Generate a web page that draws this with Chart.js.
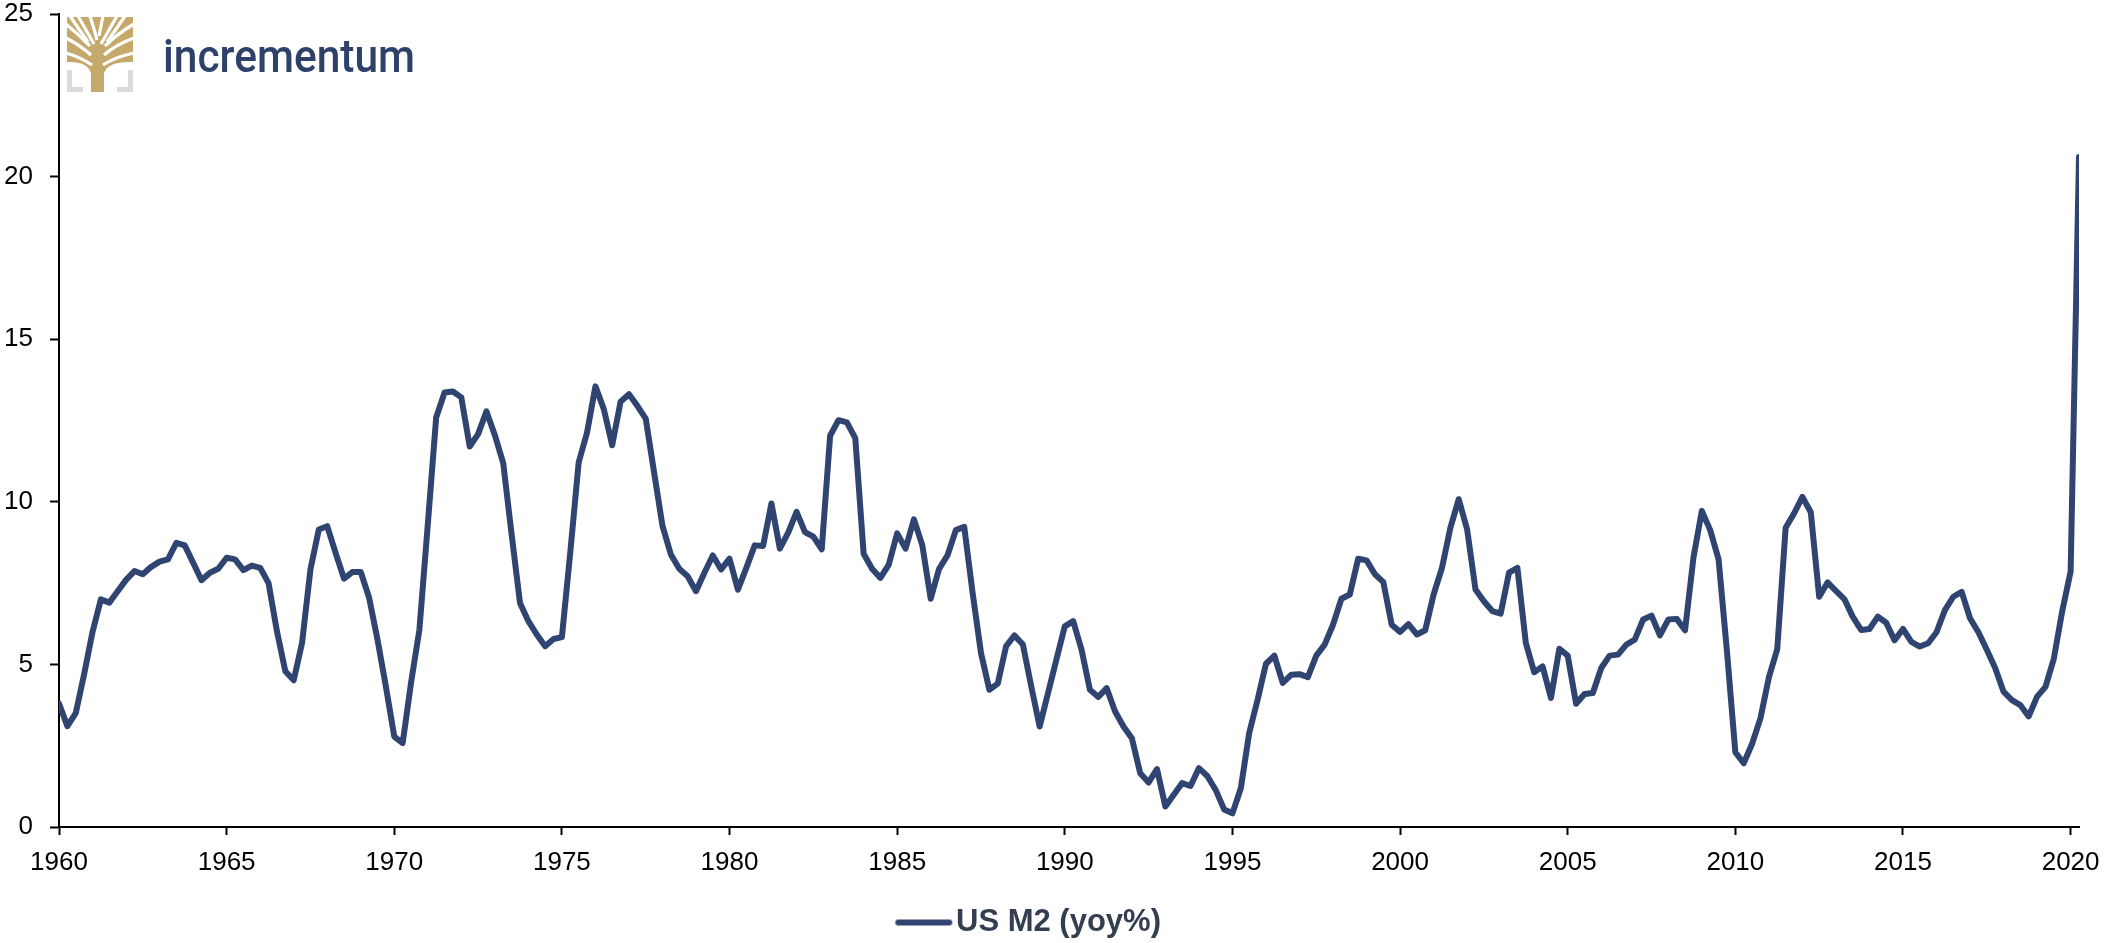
<!DOCTYPE html>
<html>
<head>
<meta charset="utf-8">
<title>US M2 (yoy%)</title>
<script src="https://cdn.jsdelivr.net/npm/chart.js@4.4.1/dist/chart.umd.min.js"></script>
<style>
  html, body { margin: 0; padding: 0; background: #fff; overflow: hidden; }
  #wrap { position: relative; width: 2106px; height: 943px; }
</style>
</head>
<body>
<div id="wrap"><canvas id="m2Chart"></canvas></div>
<script>
// quarterly values, first one is 1960 Q1
const startYear = 1960;
const seriesLabel = 'US M2 (yoy%)';

const m2_1960s = [
    3.8, 3.1, 3.5, 4.7, 6.0, 7.0, 6.9, 7.25, 7.6, 7.87,
    7.77, 8.0, 8.16, 8.23, 8.74, 8.66, 8.13, 7.59, 7.82, 7.94,
    8.28, 8.23, 7.9, 8.04, 7.97, 7.5, 6.02, 4.79, 4.51, 5.66,
    7.92, 9.15, 9.25, 8.43, 7.64, 7.84, 7.84, 7.05, 5.76, 4.32
];
const m2_1970s = [
    2.78, 2.58, 4.43, 6.07, 9.3, 12.59, 13.36, 13.39, 13.21, 11.7,
    12.08, 12.78, 12.05, 11.19, 9.0, 6.89, 6.33, 5.92, 5.56, 5.78,
    5.84, 8.45, 11.21, 12.13, 13.55, 12.85, 11.74, 13.08, 13.31, 12.95,
    12.56, 10.9, 9.26, 8.38, 7.94, 7.71, 7.25, 7.82, 8.35, 7.92
];
const m2_1980s = [
    8.25, 7.3, 7.97, 8.66, 8.64, 9.95, 8.56, 9.05, 9.69, 9.07,
    8.93, 8.54, 12.03, 12.51, 12.44, 11.96, 8.4, 7.94, 7.66, 8.07,
    9.03, 8.56, 9.46, 8.66, 7.02, 7.94, 8.35, 9.13, 9.23, 7.2,
    5.35, 4.22, 4.41, 5.56, 5.89, 5.61, 4.32, 3.09, 4.12, 5.15
];
const m2_1990s = [
    6.17, 6.33, 5.45, 4.22, 4.0, 4.27, 3.55, 3.09, 2.73, 1.65,
    1.37, 1.78, 0.63, 0.99, 1.35, 1.26, 1.81, 1.57, 1.14, 0.54,
    0.42, 1.19, 2.89, 3.91, 5.02, 5.27, 4.43, 4.68, 4.7, 4.61,
    5.27, 5.61, 6.22, 7.02, 7.15, 8.25, 8.2, 7.77, 7.53, 6.22
];
const m2_2000s = [
    6.0, 6.24, 5.92, 6.05, 7.15, 7.97, 9.2, 10.08, 9.15, 7.3,
    6.94, 6.64, 6.56, 7.82, 7.97, 5.66, 4.76, 4.94, 3.97, 5.48,
    5.27, 3.79, 4.09, 4.12, 4.89, 5.27, 5.3, 5.61, 5.76, 6.38,
    6.5, 5.89, 6.38, 6.4, 6.05, 8.28, 9.72, 9.13, 8.23, 5.4
];
const m2_2010s = [
    2.3, 1.96, 2.56, 3.35, 4.6, 5.47, 9.2, 9.64, 10.15, 9.68,
    7.08, 7.52, 7.26, 7.01, 6.47, 6.06, 6.09, 6.47, 6.28, 5.74,
    6.09, 5.69, 5.55, 5.65, 5.99, 6.67, 7.08, 7.23, 6.42, 5.99,
    5.45, 4.89, 4.16, 3.9, 3.75, 3.4, 4.01, 4.31, 5.18, 6.64
];
const m2_2020s = [7.85, 20.6];

const xTicks = [1960, 1965, 1970, 1975, 1980, 1985, 1990, 1995, 2000, 2005, 2010, 2015, 2020];
const yTicks = [0, 5, 10, 15, 20, 25];

const m2 = [].concat(m2_1960s, m2_1970s, m2_1980s, m2_1990s, m2_2000s, m2_2010s, m2_2020s);
const points = m2.map((v, i) => ({ x: startYear + i / 4, y: v }));

const navy = '#2f4471';
const axisFont = { family: '"Liberation Sans", Arial, sans-serif', size: 26 };

// legend swatch: a short thick line, drawn a bit left of the box so the text sits close to it
const legendSwatch = document.createElement('canvas');
legendSwatch.width = 120;
legendSwatch.height = 10;
const sctx = legendSwatch.getContext('2d');
sctx.strokeStyle = navy;
sctx.lineWidth = 6;
sctx.lineCap = 'round';
sctx.beginPath();
sctx.moveTo(29, 5);
sctx.lineTo(80, 5);
sctx.stroke();

// incrementum logo, top left
const logoPlugin = {
    id: 'logo',
    afterDraw(chart) {
        const ctx = chart.ctx;
        ctx.save();

        // grey corner brackets
        ctx.fillStyle = '#dadadd';
        ctx.fillRect(67, 70, 5, 22);
        ctx.fillRect(67, 87, 16, 5);
        ctx.fillRect(128, 70, 5, 22);
        ctx.fillRect(117, 87, 16, 5);

        // gold tree
        ctx.fillStyle = '#c4a96b';
        ctx.beginPath();
        ctx.moveTo(67, 17);
        ctx.lineTo(133, 17);
        ctx.lineTo(133, 62);
        ctx.quadraticCurveTo(108, 61, 104, 73);
        ctx.lineTo(104, 92);
        ctx.lineTo(91, 92);
        ctx.lineTo(91, 73);
        ctx.quadraticCurveTo(87, 61, 67, 62);
        ctx.closePath();
        ctx.fill();

        // white gaps between the branches
        ctx.strokeStyle = '#fff';
        ctx.lineWidth = 3.2;
        ctx.lineCap = 'butt';
        const gaps = [
            [92, 65, 80, 57, 66, 53], [91, 55, 80, 45, 66, 38], [90, 46, 78, 34, 66, 24],
            [94, 44, 86, 30, 78, 16], [97, 40, 94, 28, 90, 16], [88, 42, 78, 28, 70, 16],
            [103, 65, 115, 57, 134, 53], [104, 55, 115, 45, 134, 38], [105, 46, 117, 34, 134, 24],
            [101, 44, 109, 30, 117, 16], [99, 36, 101, 26, 103, 16], [107, 42, 117, 28, 125, 16]
        ];
        gaps.forEach(g => {
            ctx.beginPath();
            ctx.moveTo(g[0], g[1]);
            ctx.quadraticCurveTo(g[2], g[3], g[4], g[5]);
            ctx.stroke();
        });

        ctx.fillStyle = '#2e4169';
        ctx.font = '500 47px Roboto, "Liberation Sans", sans-serif';
        ctx.textBaseline = 'alphabetic';
        ctx.fillText('incrementum', 163, 72, 252);
        ctx.restore();
    }
};

new Chart(document.getElementById('m2Chart'), {
    type: 'line',
    data: {
        datasets: [{
            label: seriesLabel,
            data: points,
            borderColor: navy,
            backgroundColor: navy,
            borderWidth: 6,
            borderCapStyle: 'round',
            borderJoinStyle: 'round',
            pointRadius: 0,
            tension: 0,
            fill: false
        }]
    },
    options: {
        responsive: true,
        maintainAspectRatio: false,
        animation: false,
        devicePixelRatio: 1,
        layout: { padding: { top: 14, right: 27, left: 0, bottom: -5 } },
        plugins: {
            tooltip: { enabled: false },
            legend: {
                position: 'bottom',
                labels: {
                    usePointStyle: true,
                    pointStyle: legendSwatch,
                    pointStyleWidth: 22.5,
                    padding: 10,
                    color: '#333f50',
                    font: { family: '"Liberation Sans", Arial, sans-serif', size: 31, weight: 'bold' }
                }
            }
        },
        scales: {
            x: {
                type: 'linear',
                min: startYear,
                max: startYear + (m2.length - 1) / 4,
                afterBuildTicks: (s) => { s.ticks = xTicks.map(v => ({ value: v })); },
                afterFit: (s) => { s.height = 70; s.paddingLeft = 0; s.paddingRight = 0; },
                ticks: {
                    color: '#000',
                    font: axisFont,
                    padding: 12,
                    maxRotation: 0,
                    autoSkip: false,
                    callback: (v) => String(v)
                },
                grid: { drawOnChartArea: false, drawTicks: true, tickLength: 8, tickWidth: 2, tickColor: '#000' },
                border: { display: true, color: '#000', width: 2 }
            },
            y: {
                min: 0,
                max: 25,
                afterBuildTicks: (s) => { s.ticks = yTicks.map(v => ({ value: v })); },
                afterFit: (s) => { s.width = 59; s.paddingTop = 0; s.paddingBottom = 0; },
                ticks: { color: '#000', font: axisFont, padding: 17, callback: (v) => String(v) },
                grid: { drawOnChartArea: false, drawTicks: true, tickLength: 9, tickWidth: 2, tickColor: '#000' },
                border: { display: true, color: '#000', width: 2 }
            }
        }
    },
    plugins: [logoPlugin]
});
</script>
</body>
</html>
